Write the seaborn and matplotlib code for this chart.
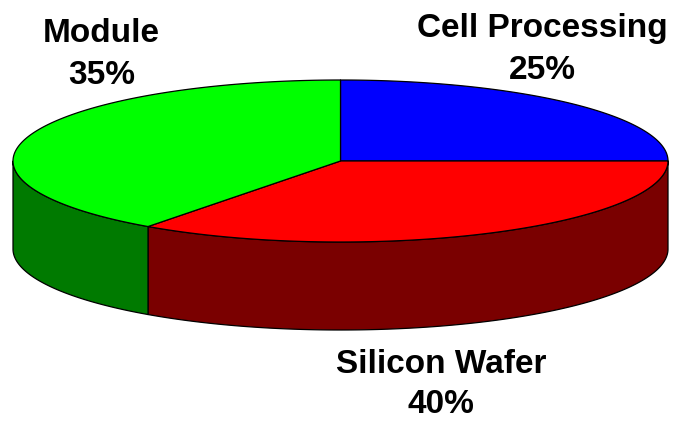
import numpy as np
import matplotlib
matplotlib.use("Agg")
import matplotlib.pyplot as plt
import seaborn as sns

# ---- data ----
categories = ["Cell Processing", "Silicon Wafer", "Module"]
shares = [25, 35, 40]                 # slice sizes as drawn (clockwise from 12 o'clock)
pct_labels = ["25%", "40%", "35%"]    # percentage texts as printed
top_colors = ["#0000FF", "#FF0000", "#00FF00"]
side_colors = ["#00007A", "#7A0000", "#007A00"]

sns.set_theme(style="white")
plt.rcParams['font.family'] = ['Liberation Sans', 'DejaVu Sans']

W, H = 680, 421
fig = plt.figure(figsize=(W / 100, H / 100), dpi=100)
ax = fig.add_axes([0, 0, 1, 1])
ax.set_xlim(0, W)
ax.set_ylim(H, 0)
ax.set_axis_off()

# layout of the 3-D pie
cx, cy = 340.5, 161.0
rx, ry = 327.5, 81.0
depth = 88.0


def ell(theta_deg, dy=0.0):
    t = np.radians(theta_deg)
    return cx + rx * np.cos(t), cy - ry * np.sin(t) + dy


vals = np.asarray(shares, dtype=float)
cum = np.concatenate([[0], np.cumsum(vals)]) / vals.sum()
bounds = 90 - 360 * cum  # clockwise from top

# side walls (visible front half: angles -180..0)
for i in range(len(vals)):
    a_start, a_end = bounds[i], bounds[i + 1]
    lo, hi = max(a_end, -180), min(a_start, 0)
    if hi - lo <= 0.01:
        continue
    th = np.linspace(lo, hi, 200)
    xt, yt = ell(th)
    xb, yb = ell(th[::-1], depth)
    ax.fill(np.concatenate([xt, xb]), np.concatenate([yt, yb]),
            facecolor=side_colors[i], edgecolor="black", linewidth=0.9,
            joinstyle="round", zorder=1)

# top face
for i in range(len(vals)):
    th = np.linspace(bounds[i], bounds[i + 1], 300)
    xt, yt = ell(th)
    ax.fill(np.concatenate([[cx], xt]), np.concatenate([[cy], yt]),
            facecolor=top_colors[i], edgecolor="black", linewidth=0.9,
            joinstyle="round", zorder=2)

# labels
label_pos = {
    "Cell Processing": (542.5, 37, 79),
    "Silicon Wafer": (441, 373, 413),
    "Module": (101.5, 42, 84),
}
for name, pct in zip(categories, pct_labels):
    x, y1, y2 = label_pos[name]
    ax.text(x, y1, name, ha="center", va="baseline", fontsize=24,
            fontweight="bold", color="black", zorder=5)
    ax.text(x, y2, pct, ha="center", va="baseline", fontsize=24,
            fontweight="bold", color="black", zorder=5)

fig.savefig("out.png", dpi=100, facecolor="white")
